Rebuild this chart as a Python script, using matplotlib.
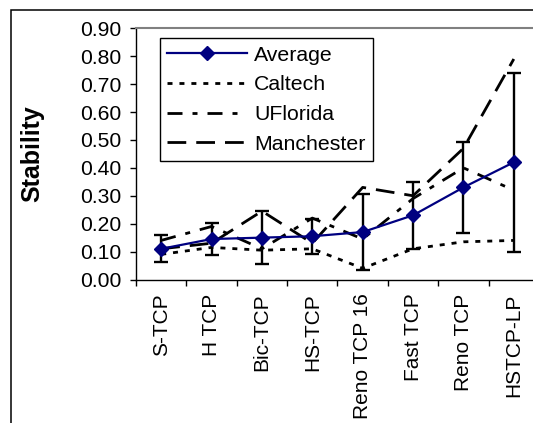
import matplotlib
matplotlib.use("Agg")
import matplotlib.pyplot as plt
from matplotlib.patches import Rectangle

plt.rcParams['font.family'] = ['Liberation Sans', 'DejaVu Sans']
plt.rcParams['lines.scale_dashes'] = False

# values
categories = ['S-TCP', 'H TCP', 'Bic-TCP', 'HS-TCP', 'Reno TCP 16',
              'Fast TCP', 'Reno TCP', 'HSTCP-LP']
average = [0.11, 0.145, 0.15, 0.155, 0.17, 0.23, 0.33, 0.42]
average_err = [0.048, 0.057, 0.094, 0.063, 0.135, 0.12, 0.162, 0.32]
caltech = [0.09, 0.115, 0.105, 0.11, 0.04, 0.11, 0.135, 0.14]
uflorida = [0.14, 0.19, 0.11, 0.22, 0.145, 0.29, 0.40, 0.32]
manchester = [0.11, 0.13, 0.245, 0.13, 0.33, 0.30, 0.47, 0.79]
yticks = [0.0, 0.1, 0.2, 0.3, 0.4, 0.5, 0.6, 0.7, 0.8, 0.9]

W, H = 533, 423
fig = plt.figure(figsize=(W / 100, H / 100), dpi=100)

# chart area border (the reference is cropped on the right and bottom)
fig.patches.append(Rectangle((10.7 / W, -0.2), 1.5, 1.2 - 10 / H,
                             transform=fig.transFigure, fill=False,
                             ec='black', lw=1.1))

# plot area runs past the right edge of the picture
ax = fig.add_axes([136 / W, (H - 279.5) / H, 403 / W, 251.2 / H])

x = list(range(len(categories)))

ax.plot(x, caltech, color='black', lw=2, ls=(0, (3.6, 5)), label='Caltech', zorder=2)
ax.plot(x, uflorida, color='black', lw=2, ls=(0, (10.8, 7.2, 3.6, 7.2)),
        label='UFlorida', zorder=2)
ax.plot(x, manchester, color='black', lw=2, ls=(0, (13.5, 7.2)),
        label='Manchester', zorder=2)
ax.errorbar(x, average, yerr=average_err, fmt='none', ecolor='black',
            elinewidth=1.7, capsize=5.3, capthick=1.7, zorder=3)
ax.plot(x, average, color='#000080', lw=1.6, marker='D', markersize=7.5,
        label='Average', zorder=4)

ax.set_xlim(-0.5, len(categories) - 0.5)
ax.set_ylim(0, 0.9)
ax.set_yticks(yticks)
ax.set_yticklabels(['%.2f' % v for v in yticks])
ax.tick_params(axis='y', direction='out', length=4.5, width=1, pad=6,
               labelsize=15.2)

ax.set_xticks(x)
ax.set_xticklabels(categories, rotation=90, fontsize=15)
ax.set_xticks([i - 0.5 for i in range(len(categories) + 1)], minor=True)
ax.tick_params(axis='x', which='major', length=0, pad=10)
ax.tick_params(axis='x', which='minor', direction='out', length=4.5, width=1)

ax.spines['top'].set_color('#808080')
ax.spines['top'].set_linewidth(1.5)
ax.spines['right'].set_visible(False)
ax.spines['left'].set_linewidth(1)
ax.spines['bottom'].set_linewidth(1)

fig.text(32 / W, 1 - 153.8 / H, 'Stability', rotation=90, ha='center',
         va='center', fontsize=18, fontweight='bold')

handles, labels = ax.get_legend_handles_labels()
order = [3, 0, 1, 2]
leg = ax.legend([handles[i] for i in order], [labels[i] for i in order],
                loc='upper left', bbox_to_anchor=(160 / W, 1 - 38.4 / H),
                bbox_transform=fig.transFigure, borderaxespad=0,
                fontsize=15.3, handlelength=3.76, handletextpad=0.33,
                borderpad=0.35, labelspacing=0.5, fancybox=False,
                framealpha=1, edgecolor='black')
leg.get_frame().set_linewidth(1)

fig.savefig('out.png', dpi=100)
